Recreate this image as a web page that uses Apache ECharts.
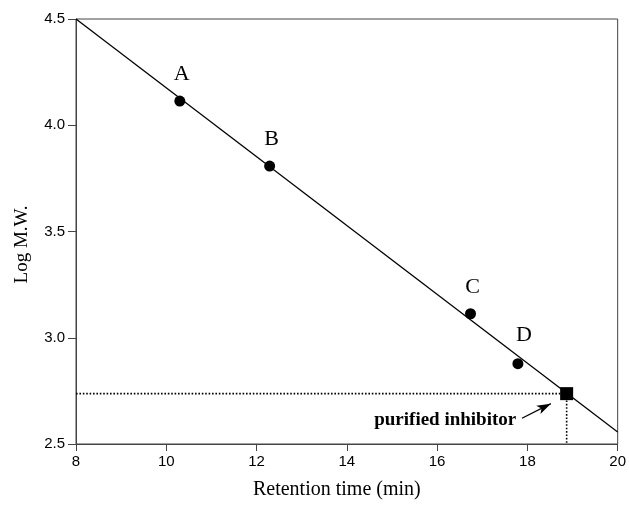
<!DOCTYPE html>
<html>
<head>
<meta charset="utf-8">
<script src="https://cdn.jsdelivr.net/npm/echarts@6/dist/echarts.min.js"></script>
<style>html,body{margin:0;padding:0;background:#fff}#c{width:629px;height:505px}</style>
</head>
<body>
<div id="c"></div>
<script>
// Standards
var stdNames = ['A', 'B', 'C', 'D'];
var stdTime = [10.30, 12.29, 16.74, 17.79];
var stdLogMW = [4.114, 3.808, 3.113, 2.878];
// Regression line endpoints
var fitTime = [8, 20];
var fitLogMW = [4.5, 2.556];
// Purified inhibitor
var inhTime = 18.87;
var inhLogMW = 2.737;
var inhLabel = 'purified inhibitor';
var inhLabelPos = [16.18, 2.612];
var arrowFrom = [17.88, 2.621];
var arrowTo = [18.52, 2.690];
// Axes
var xMin = 8, xMax = 20, xStep = 2;
var yMin = 2.5, yMax = 4.5, yStep = 0.5;
var xTitle = 'Retention time (min)';
var yTitle = 'Log M.W.';

var chart = echarts.init(document.getElementById('c'), null, {renderer: 'canvas'});
var axisColor = '#444';
var sans = 'Liberation Sans';
var serif = 'Liberation Serif';

var stdData = stdTime.map(function (t, i) {
  var item = {value: [t, stdLogMW[i]], name: stdNames[i]};
  if (i === 3) item.label = {offset: [6, -2]};
  return item;
});
var fitData = fitTime.map(function (t, i) { return [t, fitLogMW[i]]; });

chart.setOption({
  animation: false,
  grid: {left: 76, right: 10, top: 19, bottom: 54, show: true, borderColor: axisColor, borderWidth: 1},
  xAxis: {
    type: 'value', min: xMin, max: xMax, interval: xStep,
    name: xTitle, nameLocation: 'middle', nameGap: 36,
    nameTextStyle: {fontFamily: serif, fontSize: 20, color: '#000', padding: [0, 20, 0, 0]},
    axisLine: {show: true, lineStyle: {color: axisColor, width: 1}},
    axisTick: {show: true, length: 7, lineStyle: {color: axisColor}},
    axisLabel: {fontFamily: sans, fontSize: 15, color: '#000', margin: 10},
    splitLine: {show: false}
  },
  yAxis: {
    type: 'value', min: yMin, max: yMax, interval: yStep,
    name: yTitle, nameLocation: 'middle', nameGap: 44, nameRotate: 90,
    nameTextStyle: {fontFamily: serif, fontSize: 19, color: '#000', padding: [0, 26, 0, 0]},
    axisLine: {show: true, lineStyle: {color: axisColor, width: 1}},
    axisTick: {show: true, length: 8, lineStyle: {color: axisColor}},
    axisLabel: {fontFamily: sans, fontSize: 15, color: '#000', margin: 11,
      formatter: function (v) { return v.toFixed(1); }},
    splitLine: {show: false}
  },
  series: [
    {
      type: 'line', data: fitData, symbol: 'none',
      lineStyle: {color: '#000', width: 1.3}, z: 2, silent: true
    },
    {
      type: 'line',
      data: [[xMin, inhLogMW], [inhTime, inhLogMW]],
      symbol: 'none', lineStyle: {color: '#000', width: 1.6, type: [1.6, 1.8]}, z: 2
    },
    {
      type: 'line',
      data: [[inhTime, inhLogMW], [inhTime, yMin]],
      symbol: 'none', lineStyle: {color: '#000', width: 1.6, type: [1.6, 1.8]}, z: 2
    },
    {
      type: 'scatter', data: stdData, symbol: 'circle', symbolSize: 11,
      itemStyle: {color: '#000', opacity: 1}, z: 3,
      label: {show: true, position: 'top', distance: 10, offset: [2, 0],
        formatter: function (p) { return p.name; },
        fontFamily: serif, fontSize: 22, color: '#000'}
    },
    {
      type: 'scatter', data: [[inhTime, inhLogMW]], symbol: 'rect', symbolSize: 13,
      itemStyle: {color: '#000', opacity: 1}, z: 4,
      markLine: {
        silent: true, symbol: ['none', 'arrow'], symbolSize: [7, 14],
        lineStyle: {color: '#000', width: 1.3, type: 'solid'},
        label: {show: false},
        data: [[{coord: arrowFrom}, {coord: arrowTo}]]
      }
    },
    {
      type: 'scatter', data: [inhLabelPos], symbolSize: 0, z: 5,
      itemStyle: {color: '#000', opacity: 1},
      label: {show: true, position: 'inside', formatter: inhLabel,
        fontFamily: serif, fontWeight: 'bold', fontSize: 19, color: '#000',
        textBorderWidth: 0, opacity: 1}
    }
  ]
});
</script>
</body>
</html>
